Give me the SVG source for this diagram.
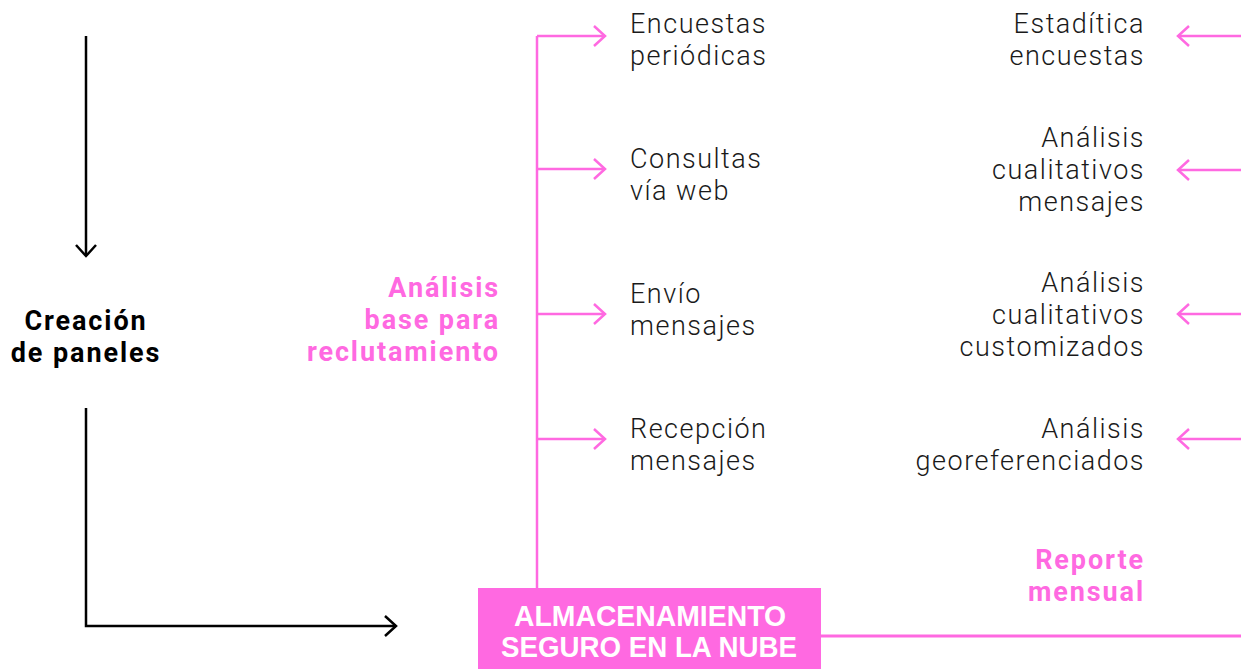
<svg xmlns="http://www.w3.org/2000/svg" width="1241" height="669" viewBox="0 0 1241 669">
<style>
.t{font-family:Roboto,"Liberation Sans",sans-serif;font-size:27px;font-weight:300;fill:#1a1a1a;letter-spacing:1.5px}
.r{text-anchor:end}
.b{font-family:Roboto,"Liberation Sans",sans-serif;font-size:27px;font-weight:700;letter-spacing:1.9px}
.pk{fill:#ff69e1}
.bk{fill:#000}
.box{font-family:"Liberation Sans",sans-serif;font-size:29px;font-weight:700;fill:#fff;text-anchor:middle}
.pl{stroke:#ff69e1;stroke-width:2.5;fill:none}
.bl{stroke:#000;stroke-width:2.5;fill:none}
</style>
<defs>
<marker id="ap" markerWidth="14" markerHeight="22" refX="12" refY="11" orient="auto" markerUnits="userSpaceOnUse"><path d="M1,1 L12,11 L1,21" fill="none" stroke="#ff69e1" stroke-width="2.5"/></marker>
<marker id="ab" markerWidth="14" markerHeight="22" refX="12" refY="11" orient="auto" markerUnits="userSpaceOnUse"><path d="M1,1 L12,11 L1,21" fill="none" stroke="#000" stroke-width="2.5"/></marker>
</defs>
<rect width="1241" height="669" fill="#fff"/>
<g id="connectors">
<path class="bl" d="M86,36 V256" marker-end="url(#ab)"/>
<path class="bl" d="M86,408 V626 H396" marker-end="url(#ab)"/>
<path class="pl" d="M537,36 V588"/>
<path class="pl" d="M537,36 H605" marker-end="url(#ap)"/>
<path class="pl" d="M537,169 H605" marker-end="url(#ap)"/>
<path class="pl" d="M537,314 H605" marker-end="url(#ap)"/>
<path class="pl" d="M537,439 H605" marker-end="url(#ap)"/>
<path class="pl" d="M1241,36 H1178" marker-end="url(#ap)"/>
<path class="pl" d="M1241,170 H1178" marker-end="url(#ap)"/>
<path class="pl" d="M1241,314 H1178" marker-end="url(#ap)"/>
<path class="pl" d="M1241,439 H1178" marker-end="url(#ap)"/>
<path d="M821,636 H1241" stroke="#ff69e1" stroke-width="3" fill="none"/>
</g>
<g id="creacion"><text class="b bk" text-anchor="middle" x="86" y="330">Creación</text><text class="b bk" text-anchor="middle" x="86" y="362">de paneles</text></g>
<g id="analisis-base"><text class="b pk r" x="500" y="297">Análisis</text><text class="b pk r" x="500" y="329">base para</text><text class="b pk r" x="500" y="361">reclutamiento</text></g>
<g id="encuestas"><text class="t" x="630" y="33">Encuestas</text><text class="t" x="630" y="65">periódicas</text></g>
<g id="consultas"><text class="t" x="630" y="168">Consultas</text><text class="t" x="630" y="200">vía web</text></g>
<g id="envio"><text class="t" x="630" y="303">Envío</text><text class="t" x="630" y="335">mensajes</text></g>
<g id="recepcion"><text class="t" x="630" y="438">Recepción</text><text class="t" x="630" y="470">mensajes</text></g>
<g id="estadistica"><text class="t r" x="1145" y="33">Estadítica</text><text class="t r" x="1145" y="65">encuestas</text></g>
<g id="cual-mensajes"><text class="t r" x="1145" y="147">Análisis</text><text class="t r" x="1145" y="179">cualitativos</text><text class="t r" x="1145" y="211">mensajes</text></g>
<g id="cual-custom"><text class="t r" x="1145" y="292">Análisis</text><text class="t r" x="1145" y="324">cualitativos</text><text class="t r" x="1145" y="356">customizados</text></g>
<g id="georef"><text class="t r" x="1145" y="438">Análisis</text><text class="t r" x="1145" y="470">georeferenciados</text></g>
<g id="reporte"><text class="b pk r" x="1145" y="569">Reporte</text><text class="b pk r" x="1145" y="601">mensual</text></g>
<g id="almacenamiento"><rect x="478" y="588" width="343" height="81" fill="#ff69e1"/><text class="box" x="650" y="626" textLength="272" lengthAdjust="spacingAndGlyphs">ALMACENAMIENTO</text><text class="box" x="649" y="657" textLength="296" lengthAdjust="spacingAndGlyphs">SEGURO EN LA NUBE</text></g>
</svg>
